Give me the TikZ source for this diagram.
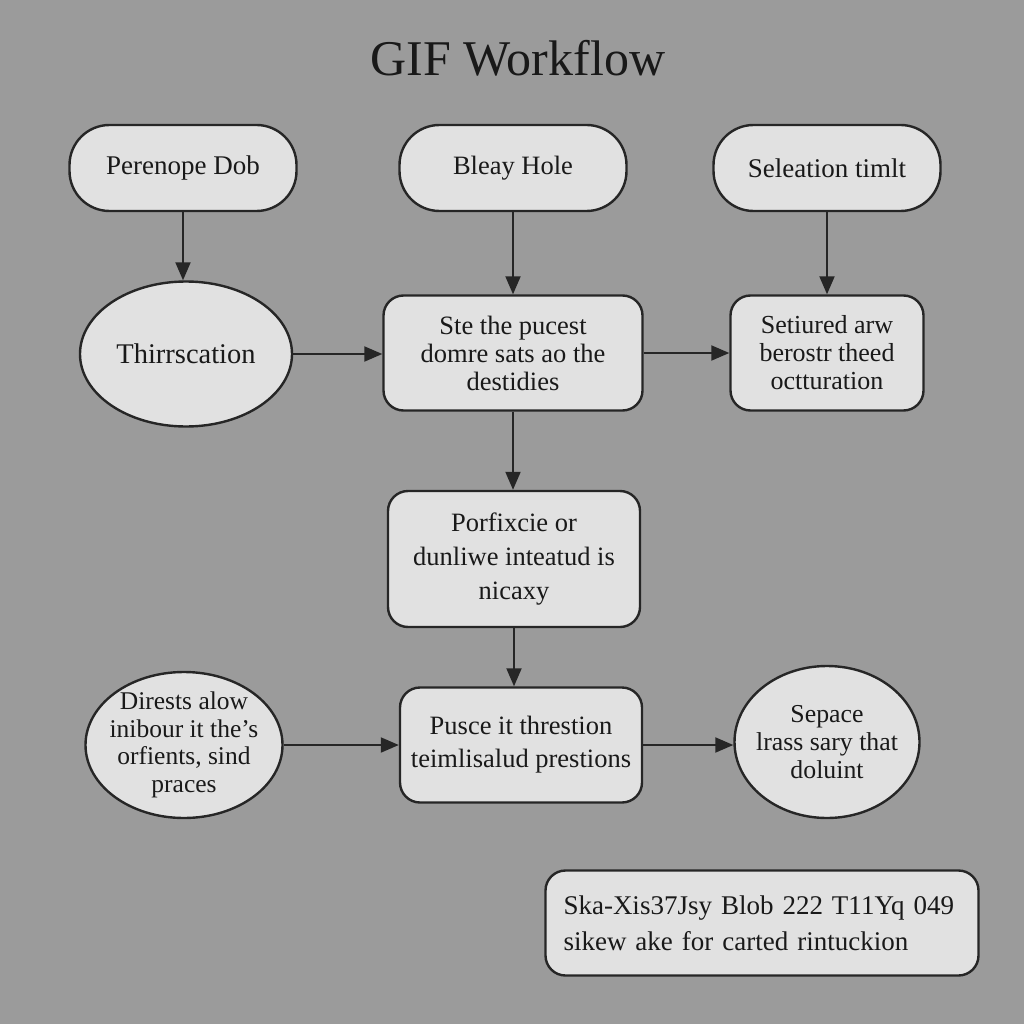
\documentclass[tikz,border=0pt]{standalone}
\usepackage{fontspec}
\setmainfont{Liberation Serif}
\usetikzlibrary{arrows.meta,shapes.geometric}
\definecolor{bgc}{HTML}{9B9B9B}
\definecolor{nodefill}{HTML}{E1E1E1}
\definecolor{edge}{HTML}{262626}
\begin{document}
\begin{tikzpicture}[x=1pt,y=-1pt,
  base/.style={draw=edge, line width=2.4pt, fill=nodefill, inner sep=0pt, align=center,
    font=\fontsize{26.5}{28}\selectfont, text=black!90},
  stadium/.style={base, rectangle, rounded corners=40pt, minimum width=227pt, minimum height=86pt},
  rbox/.style={base, rectangle, rounded corners=20pt},
  oval/.style={base, ellipse},
  conn/.style={draw=edge, line width=2pt, -{Triangle[length=18pt,width=15pt]}}]
\useasboundingbox[fill=bgc] (0,0) rectangle (1024,1024);
\node[font=\fontsize{50}{56}\selectfont, text=black!90] (title) at (518,58) {GIF Workflow};
% top row
\node[stadium, font=\fontsize{27}{28}\selectfont] (a) at (183,168) {Perenope Dob};
\node[stadium] (b) at (513,168) {Bleay Hole};
\node[stadium, font=\fontsize{27}{28}\selectfont] (c) at (827,168) {Seleation timlt};
% second row
\node[oval, minimum width=212pt, minimum height=145pt, font=\fontsize{28.5}{30}\selectfont] (d) at (186,354) {Thirrscation};
\node[rbox, minimum width=259pt, minimum height=115pt] (e) at (513,353) {Ste the pucest\\domre sats ao the\\destidies};
\node[rbox, minimum width=193pt, minimum height=115pt, font=\fontsize{26}{28}\selectfont] (f) at (827,353) {Setiured arw\\berostr theed\\octturation};
% third row
\node[rbox, minimum width=252pt, minimum height=136pt, font=\fontsize{26.5}{34}\selectfont] (g) at (514,559) {Porfixcie or\\dunliwe inteatud is\\nicaxy};
% fourth row
\node[oval, minimum width=197pt, minimum height=146pt, inner xsep=-10pt, inner ysep=-4pt, font=\fontsize{25.5}{27.5}\selectfont] (h) at (184,745) {Dirests alow\\inibour it the's\\orfients, sind\\praces};
\node[rbox, minimum width=242pt, minimum height=115pt, font=\fontsize{26.5}{33}\selectfont] (i) at (521,745) {Pusce it threstion\\teimlisalud prestions};
\node[oval, minimum width=185pt, minimum height=152pt, inner xsep=-7pt, font=\fontsize{25.8}{28}\selectfont] (j) at (827,742) {Sepace\\lrass sary that\\doluint};
% bottom note
\node[rbox, minimum width=433pt, minimum height=105pt, align=left, font=\fontsize{27}{36}\selectfont, text width=397pt] (k) at (762,923) {Ska-Xis37Jsy Blob 222 T11Yq 049\\sikew ake for carted rintuckion};
% connectors
\draw[conn] (a.south) -- (a.south |- d.north);
\draw[conn] (b.south) -- (e.north);
\draw[conn] (c.south) -- (f.north);
\draw[conn] (d.east) -- (d.east -| e.west);
\draw[conn] (e.east) -- (f.west);
\draw[conn] (e.south) -- (e.south |- g.north);
\draw[conn] (g.south) -- (g.south |- i.north);
\draw[conn] (h.east) -- (h.east -| i.west);
\draw[conn] (i.east) -- (i.east -| j.west);
\end{tikzpicture}
\end{document}
